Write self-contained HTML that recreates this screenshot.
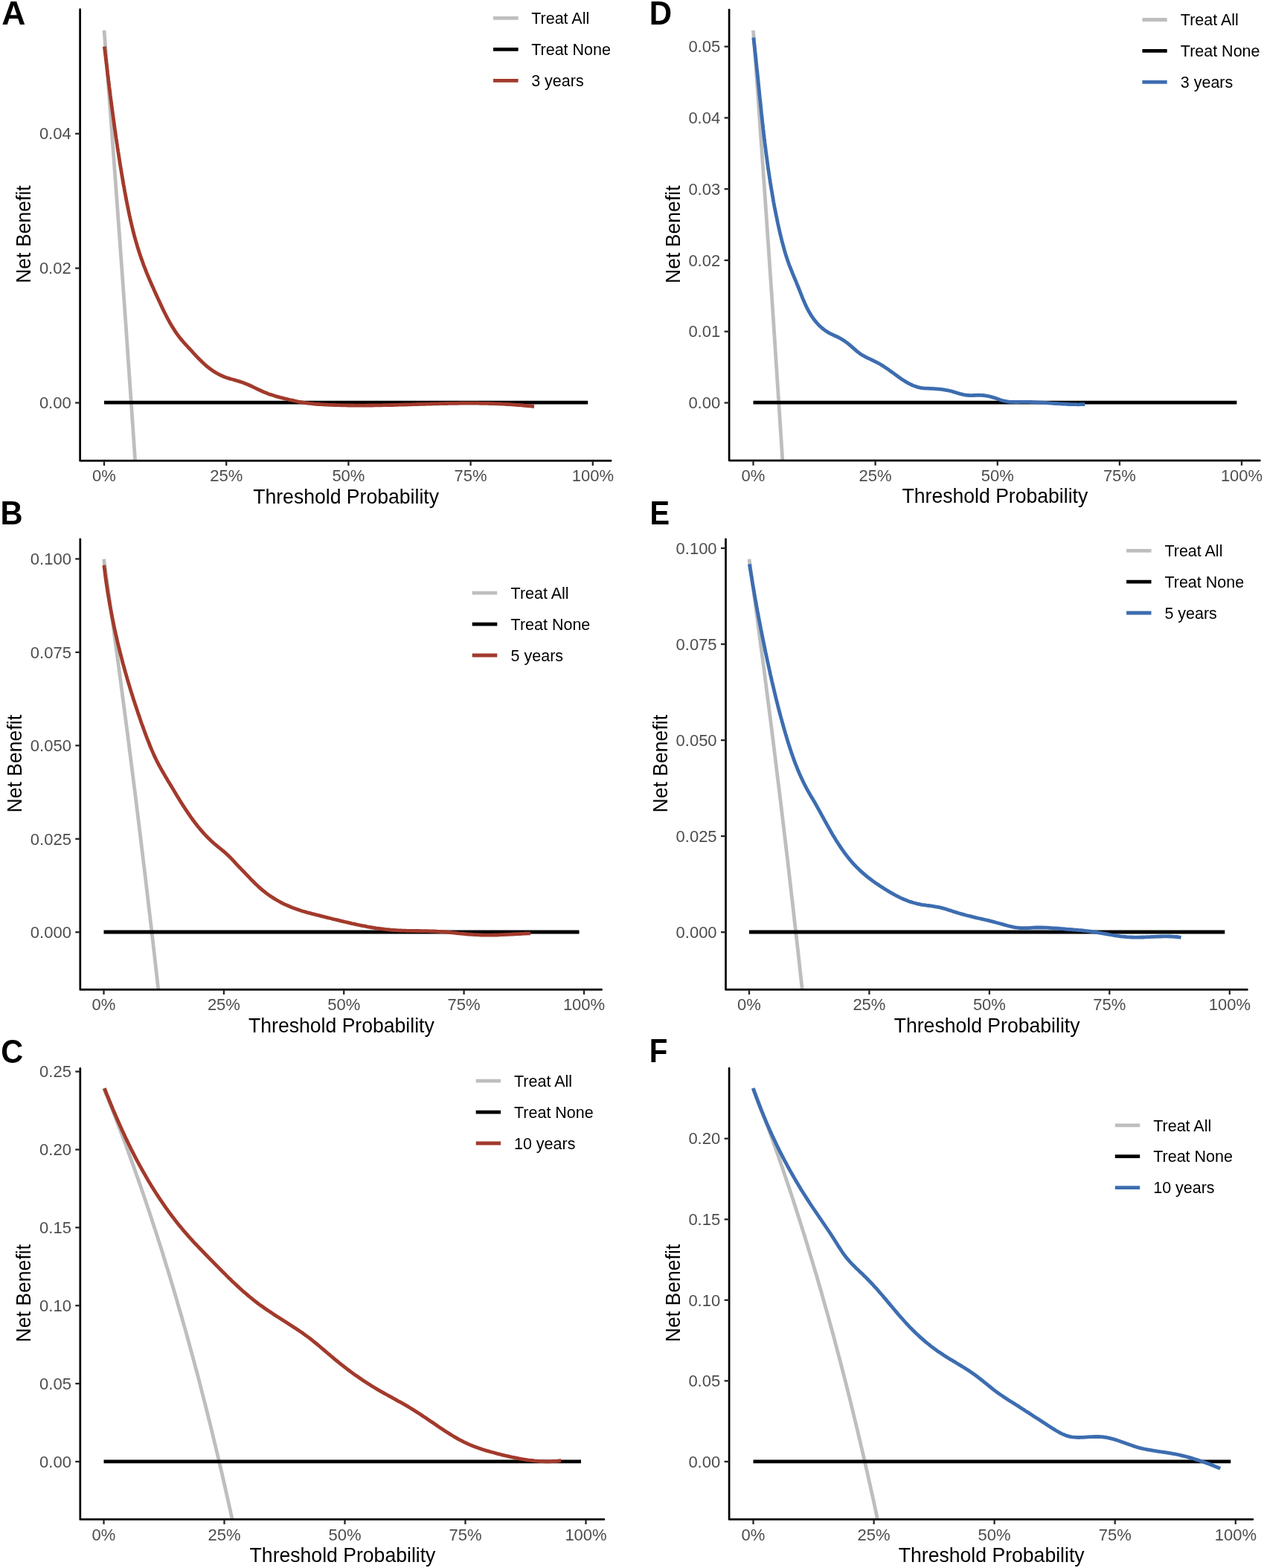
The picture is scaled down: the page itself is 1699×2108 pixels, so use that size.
<!DOCTYPE html>
<html><head><meta charset="utf-8"><title>Decision curve analysis</title>
<style>
html,body{margin:0;padding:0;background:#fff;}
svg{display:block;}
text{font-family:"Liberation Sans",Arial,sans-serif;}
.tk{font-size:22px;fill:#4D4D4D;}
.lg{font-size:21.5px;fill:#000;}
.ti{font-size:26.6px;fill:#000;}
.pl{font-size:42px;font-weight:bold;fill:#000;}
</style></head><body>
<svg xmlns="http://www.w3.org/2000/svg" width="1699" height="2108" viewBox="0 0 1699 2108">
<rect width="1699" height="2108" fill="#fff"/>
<g><clipPath id="clipA"><rect x="107.6" y="11.3" width="714.9" height="607.7"/></clipPath>
<path clip-path="url(#clipA)" d="M140,40.8 L143.3,83.7 L146.6,127.1 L149.9,170.9 L153.1,215.1 L156.4,259.8 L159.7,305 L163,350.6 L166.3,396.7 L169.6,443.3 L172.8,490.4 L176.1,538 L179.4,586.1 L182.7,634.7 L186,683.8" fill="none" stroke="#BEBEBE" stroke-width="4.8"/>
<line x1="140" y1="541.2" x2="790.2" y2="541.2" stroke="#000" stroke-width="4.8"/>
<path d="M140.4,62.6 L140.7,65.6 L141.1,68.6 L141.4,71.6 L141.8,74.6 L142.1,77.6 L142.5,80.6 L142.8,83.6 L143.2,86.6 L143.6,89.6 L143.9,92.6 L144.3,95.6 L144.6,98.6 L145,101.6 L145.4,104.6 L145.7,107.6 L146.1,110.6 L146.5,113.6 L146.8,116.6 L147.2,119.5 L147.6,122.5 L148,125.5 L148.3,128.5 L148.7,131.5 L149.1,134.5 L149.5,137.5 L149.9,140.5 L150.3,143.5 L150.7,146.5 L151.1,149.5 L151.5,152.5 L151.9,155.5 L152.3,158.5 L152.7,161.4 L153.1,164.4 L153.5,167.4 L153.9,170.4 L154.3,173.4 L154.8,176.4 L155.2,179.4 L155.6,182.4 L156,185.4 L156.5,188.3 L156.9,191.3 L157.4,194.3 L157.8,197.3 L158.3,200.3 L158.7,203.3 L159.2,206.2 L159.6,209.2 L160.1,212.2 L160.6,215.2 L161,218.2 L161.5,221.2 L162,224.1 L162.5,227.1 L163,230.1 L163.5,233.1 L164,236.1 L164.5,239 L165,242 L165.5,245 L166,248 L166.6,250.9 L167.1,253.9 L167.6,256.9 L168.2,259.9 L168.7,262.8 L169.3,265.8 L169.8,268.8 L170.4,271.7 L171,274.7 L171.6,277.7 L172.2,280.6 L172.8,283.6 L173.4,286.5 L174,289.5 L174.7,292.4 L175.3,295.4 L176,298.3 L176.7,301.3 L177.4,304.2 L178.1,307.1 L178.8,310.1 L179.6,313 L180.3,315.9 L181.1,318.8 L181.9,321.7 L182.7,324.6 L183.6,327.5 L184.4,330.4 L185.3,333.3 L186.2,336.2 L187.1,339 L188,341.9 L189,344.7 L190,347.6 L191,350.4 L192,353.3 L193,356.1 L194.1,358.9 L195.2,361.7 L196.3,364.6 L197.4,367.4 L198.6,370.2 L199.7,372.9 L200.9,375.7 L202.1,378.5 L203.3,381.3 L204.5,384.1 L205.8,386.8 L207,389.6 L208.2,392.4 L209.5,395.1 L210.8,397.9 L212,400.6 L213.3,403.4 L214.6,406.1 L215.8,408.9 L217.1,411.6 L218.4,414.4 L219.7,417.1 L221,419.8 L222.4,422.5 L223.7,425.2 L225.1,427.9 L226.6,430.5 L228,433.2 L229.5,435.8 L231,438.4 L232.6,440.9 L234.2,443.4 L235.8,445.9 L237.5,448.4 L239.3,450.9 L241.1,453.3 L243,455.6 L244.9,457.9 L246.9,460.2 L248.9,462.5 L251,464.7 L253,467 L255.1,469.2 L257.2,471.4 L259.2,473.7 L261.2,475.9 L263.3,478.1 L265.4,480.3 L267.5,482.5 L269.6,484.6 L271.8,486.7 L274,488.8 L276.2,490.8 L278.6,492.8 L280.9,494.7 L283.3,496.5 L285.8,498.2 L288.3,499.9 L290.9,501.5 L293.5,502.9 L296.2,504.3 L298.9,505.5 L301.7,506.7 L304.5,507.7 L307.4,508.6 L310.3,509.5 L313.2,510.3 L316.1,511.1 L319,512 L321.9,512.9 L324.8,513.8 L327.6,514.8 L330.4,515.9 L333.2,517 L336,518.3 L338.7,519.5 L341.4,520.8 L344.1,522.1 L346.9,523.5 L349.6,524.7 L352.3,526 L355.1,527.2 L357.9,528.3 L360.7,529.4 L363.5,530.4 L366.4,531.3 L369.2,532.2 L372.1,533.1 L375,533.9 L377.9,534.7 L380.9,535.4 L383.8,536.2 L386.8,536.9 L389.7,537.6 L392.6,538.2 L395.6,538.9 L398.6,539.5 L401.5,540.1 L404.5,540.6 L407.5,541.1 L410.5,541.6 L413.5,542 L416.4,542.4 L419.4,542.7 L422.4,543 L425.5,543.3 L428.5,543.5 L431.5,543.7 L434.5,543.9 L437.5,544 L440.5,544.2 L443.5,544.3 L446.5,544.4 L449.5,544.5 L452.6,544.6 L455.6,544.7 L458.6,544.8 L461.6,544.9 L464.6,544.9 L467.6,545 L470.7,545 L473.7,545 L476.7,545.1 L479.7,545.1 L482.7,545.1 L485.7,545.1 L488.8,545.1 L491.8,545.1 L494.8,545 L497.8,545 L500.8,545 L503.8,544.9 L506.9,544.9 L509.9,544.8 L512.9,544.8 L515.9,544.7 L518.9,544.7 L522,544.6 L525,544.5 L528,544.5 L531,544.4 L534,544.3 L537,544.2 L540.1,544.1 L543.1,544 L546.1,544 L549.1,543.9 L552.1,543.8 L555.2,543.7 L558.2,543.6 L561.2,543.5 L564.2,543.4 L567.2,543.3 L570.3,543.3 L573.3,543.2 L576.3,543.1 L579.3,543 L582.3,542.9 L585.3,542.8 L588.4,542.8 L591.4,542.7 L594.4,542.6 L597.4,542.6 L600.4,542.5 L603.5,542.4 L606.5,542.4 L609.5,542.3 L612.5,542.3 L615.5,542.3 L618.5,542.2 L621.6,542.2 L624.6,542.2 L627.6,542.2 L630.6,542.2 L633.6,542.2 L636.6,542.2 L639.7,542.2 L642.7,542.2 L645.7,542.3 L648.7,542.3 L651.7,542.4 L654.7,542.4 L657.8,542.5 L660.8,542.6 L663.8,542.7 L666.8,542.8 L669.8,542.9 L672.8,543 L675.8,543.2 L678.9,543.3 L681.9,543.5 L684.9,543.7 L687.9,543.9 L690.9,544.1 L693.9,544.3 L696.9,544.5 L699.9,544.7 L703,545 L706,545.3 L709,545.6 L712,545.9 L715,546.2 L718,546.5" fill="none" stroke="#A23A2C" stroke-width="4.8" stroke-linejoin="round"/>
<path d="M107.6,12.7 V619.4 H821.1" fill="none" stroke="#000" stroke-width="2.7" stroke-linecap="round" stroke-linejoin="round"/>
<line x1="101.1" y1="541.5" x2="107.6" y2="541.5" stroke="#262626" stroke-width="2.3"/>
<text transform="translate(95.7,549.1) scale(1,1.04)" class="tk" text-anchor="end">0.00</text>
<line x1="101.1" y1="360.6" x2="107.6" y2="360.6" stroke="#262626" stroke-width="2.3"/>
<text transform="translate(95.7,368.3) scale(1,1.04)" class="tk" text-anchor="end">0.02</text>
<line x1="101.1" y1="179.7" x2="107.6" y2="179.7" stroke="#262626" stroke-width="2.3"/>
<text transform="translate(95.7,187.4) scale(1,1.04)" class="tk" text-anchor="end">0.04</text>
<line x1="140" y1="619.4" x2="140" y2="626" stroke="#262626" stroke-width="2.3"/>
<text transform="translate(140,647.3) scale(1,1.04)" class="tk" text-anchor="middle">0%</text>
<line x1="304.2" y1="619.4" x2="304.2" y2="626" stroke="#262626" stroke-width="2.3"/>
<text transform="translate(304.2,647.3) scale(1,1.04)" class="tk" text-anchor="middle">25%</text>
<line x1="468.4" y1="619.4" x2="468.4" y2="626" stroke="#262626" stroke-width="2.3"/>
<text transform="translate(468.4,647.3) scale(1,1.04)" class="tk" text-anchor="middle">50%</text>
<line x1="632.6" y1="619.4" x2="632.6" y2="626" stroke="#262626" stroke-width="2.3"/>
<text transform="translate(632.6,647.3) scale(1,1.04)" class="tk" text-anchor="middle">75%</text>
<line x1="796.8" y1="619.4" x2="796.8" y2="626" stroke="#262626" stroke-width="2.3"/>
<text transform="translate(796.8,647.3) scale(1,1.04)" class="tk" text-anchor="middle">100%</text>
<text transform="translate(465.1,676.6) scale(1,1.04)" class="ti" text-anchor="middle">Threshold Probability</text>
<text transform="translate(41.3,315.1) rotate(-90) scale(1,1.04)" class="ti" text-anchor="middle">Net Benefit</text>
<line x1="663" y1="24.4" x2="696.6" y2="24.4" stroke="#BEBEBE" stroke-width="4.8"/>
<text transform="translate(714.2,32.1) scale(1,1.04)" class="lg">Treat All</text>
<line x1="663" y1="66.4" x2="696.6" y2="66.4" stroke="#000" stroke-width="4.8"/>
<text transform="translate(714.2,74.1) scale(1,1.04)" class="lg">Treat None</text>
<line x1="663" y1="108.3" x2="696.6" y2="108.3" stroke="#A23A2C" stroke-width="4.8"/>
<text transform="translate(714.2,116) scale(1,1.04)" class="lg">3 years</text>
<text transform="translate(2.3,33) scale(1.06,1.04)" class="pl">A</text></g>
<g><clipPath id="clipB"><rect x="107.8" y="723.4" width="702.2" height="606.6"/></clipPath>
<path clip-path="url(#clipB)" d="M139.5,751.7 L142.7,774.4 L146,797.3 L149.2,820.5 L152.4,843.9 L155.6,867.5 L158.9,891.4 L162.1,915.5 L165.3,939.9 L168.5,964.5 L171.8,989.4 L175,1014.6 L178.2,1040 L181.5,1065.7 L184.7,1091.7 L187.9,1117.9 L191.1,1144.5 L194.4,1171.3 L197.6,1198.4 L200.8,1225.8 L204.1,1253.6 L207.3,1281.6 L210.5,1309.9 L213.7,1338.6 L217,1367.6" fill="none" stroke="#BEBEBE" stroke-width="4.8"/>
<line x1="139.5" y1="1253" x2="778.5" y2="1253" stroke="#000" stroke-width="4.8"/>
<path d="M139.9,759.8 L140.2,762.8 L140.6,765.8 L141,768.8 L141.3,771.8 L141.7,774.8 L142.1,777.8 L142.5,780.7 L142.9,783.7 L143.4,786.7 L143.8,789.7 L144.3,792.7 L144.7,795.7 L145.2,798.6 L145.7,801.6 L146.2,804.6 L146.7,807.5 L147.2,810.5 L147.7,813.5 L148.3,816.4 L148.8,819.4 L149.4,822.4 L149.9,825.3 L150.5,828.3 L151.1,831.2 L151.7,834.2 L152.3,837.1 L152.9,840.1 L153.5,843 L154.1,846 L154.8,848.9 L155.4,851.8 L156.1,854.8 L156.8,857.7 L157.4,860.6 L158.1,863.6 L158.8,866.5 L159.5,869.4 L160.3,872.4 L161,875.3 L161.7,878.2 L162.5,881.1 L163.2,884 L164,886.9 L164.7,889.9 L165.5,892.8 L166.3,895.7 L167.1,898.6 L167.9,901.5 L168.7,904.4 L169.6,907.3 L170.4,910.2 L171.2,913.1 L172.1,916 L172.9,918.8 L173.8,921.7 L174.7,924.6 L175.5,927.5 L176.4,930.4 L177.3,933.3 L178.2,936.1 L179.1,939 L180,941.9 L181,944.7 L181.9,947.6 L182.9,950.5 L183.8,953.3 L184.8,956.2 L185.7,959.1 L186.7,961.9 L187.7,964.8 L188.7,967.6 L189.6,970.5 L190.6,973.3 L191.7,976.1 L192.7,979 L193.7,981.8 L194.7,984.7 L195.8,987.5 L196.8,990.3 L197.9,993.1 L199,995.9 L200.1,998.7 L201.2,1001.5 L202.3,1004.3 L203.5,1007.1 L204.7,1009.9 L205.9,1012.6 L207.1,1015.4 L208.4,1018.1 L209.7,1020.8 L211,1023.5 L212.4,1026.1 L213.8,1028.8 L215.2,1031.4 L216.7,1034.1 L218.2,1036.7 L219.7,1039.3 L221.2,1041.9 L222.7,1044.5 L224.3,1047.1 L225.8,1049.7 L227.4,1052.3 L228.9,1054.9 L230.5,1057.4 L232,1060 L233.6,1062.6 L235.2,1065.2 L236.7,1067.8 L238.3,1070.4 L239.9,1072.9 L241.4,1075.5 L243,1078.1 L244.6,1080.6 L246.2,1083.2 L247.9,1085.7 L249.5,1088.2 L251.2,1090.7 L252.9,1093.2 L254.6,1095.7 L256.3,1098.2 L258.1,1100.6 L259.8,1103 L261.6,1105.4 L263.5,1107.8 L265.3,1110.2 L267.2,1112.5 L269.2,1114.9 L271.1,1117.1 L273.1,1119.4 L275.1,1121.6 L277.2,1123.8 L279.3,1126 L281.4,1128.1 L283.6,1130.2 L285.8,1132.2 L288.1,1134.2 L290.4,1136.2 L292.7,1138.1 L295,1140 L297.4,1141.9 L299.7,1143.8 L302,1145.7 L304.2,1147.7 L306.4,1149.8 L308.6,1151.9 L310.7,1154 L312.7,1156.2 L314.8,1158.4 L316.8,1160.6 L318.9,1162.8 L320.9,1165 L323,1167.2 L325.1,1169.4 L327.2,1171.5 L329.3,1173.7 L331.4,1175.9 L333.5,1178 L335.5,1180.2 L337.6,1182.4 L339.8,1184.5 L341.9,1186.7 L344,1188.8 L346.2,1190.8 L348.4,1192.9 L350.7,1194.9 L353,1196.8 L355.3,1198.7 L357.7,1200.6 L360.1,1202.4 L362.5,1204.1 L365,1205.8 L367.6,1207.4 L370.1,1209 L372.7,1210.5 L375.4,1212 L378,1213.4 L380.7,1214.8 L383.4,1216.1 L386.2,1217.3 L389,1218.5 L391.8,1219.7 L394.6,1220.8 L397.4,1221.8 L400.2,1222.8 L403.1,1223.8 L405.9,1224.7 L408.8,1225.5 L411.7,1226.4 L414.6,1227.2 L417.5,1227.9 L420.4,1228.7 L423.3,1229.4 L426.2,1230.2 L429.2,1230.9 L432.1,1231.6 L435,1232.3 L437.9,1233.1 L440.9,1233.8 L443.8,1234.5 L446.7,1235.3 L449.6,1236 L452.6,1236.7 L455.5,1237.4 L458.4,1238.1 L461.4,1238.8 L464.3,1239.5 L467.2,1240.2 L470.2,1240.9 L473.1,1241.6 L476.1,1242.2 L479,1242.9 L481.9,1243.5 L484.9,1244.1 L487.9,1244.7 L490.8,1245.2 L493.8,1245.8 L496.7,1246.3 L499.7,1246.8 L502.7,1247.3 L505.6,1247.8 L508.6,1248.2 L511.6,1248.6 L514.6,1249 L517.5,1249.4 L520.5,1249.7 L523.5,1250 L526.5,1250.3 L529.5,1250.5 L532.5,1250.7 L535.5,1250.9 L538.5,1251 L541.5,1251.1 L544.5,1251.2 L547.6,1251.3 L550.6,1251.4 L553.6,1251.4 L556.6,1251.4 L559.6,1251.5 L562.6,1251.5 L565.7,1251.6 L568.7,1251.6 L571.7,1251.6 L574.7,1251.7 L577.7,1251.8 L580.8,1251.9 L583.8,1252 L586.8,1252.1 L589.8,1252.3 L592.8,1252.5 L595.8,1252.7 L598.8,1252.9 L601.8,1253.2 L604.8,1253.5 L607.8,1253.8 L610.8,1254.1 L613.8,1254.5 L616.8,1254.8 L619.7,1255.1 L622.7,1255.4 L625.7,1255.7 L628.7,1256 L631.7,1256.2 L634.7,1256.4 L637.7,1256.6 L640.8,1256.7 L643.8,1256.9 L646.8,1257 L649.8,1257.1 L652.8,1257.1 L655.8,1257.1 L658.8,1257.1 L661.8,1257.1 L664.9,1257 L667.9,1257 L670.9,1256.8 L673.9,1256.7 L676.9,1256.6 L679.9,1256.4 L682.9,1256.3 L685.9,1256.1 L688.9,1256 L691.9,1255.8 L694.9,1255.6 L698,1255.5 L701,1255.3 L704,1255.2 L707,1255 L710,1254.9 L713,1254.8" fill="none" stroke="#A23A2C" stroke-width="4.8" stroke-linejoin="round"/>
<path d="M107.8,724.8 V1330.4 H808.6" fill="none" stroke="#000" stroke-width="2.7" stroke-linecap="round" stroke-linejoin="round"/>
<line x1="101.3" y1="1253.2" x2="107.8" y2="1253.2" stroke="#262626" stroke-width="2.3"/>
<text transform="translate(95.9,1260.9) scale(1,1.04)" class="tk" text-anchor="end">0.000</text>
<line x1="101.3" y1="1127.8" x2="107.8" y2="1127.8" stroke="#262626" stroke-width="2.3"/>
<text transform="translate(95.9,1135.5) scale(1,1.04)" class="tk" text-anchor="end">0.025</text>
<line x1="101.3" y1="1002.3" x2="107.8" y2="1002.3" stroke="#262626" stroke-width="2.3"/>
<text transform="translate(95.9,1010) scale(1,1.04)" class="tk" text-anchor="end">0.050</text>
<line x1="101.3" y1="876.9" x2="107.8" y2="876.9" stroke="#262626" stroke-width="2.3"/>
<text transform="translate(95.9,884.6) scale(1,1.04)" class="tk" text-anchor="end">0.075</text>
<line x1="101.3" y1="751.4" x2="107.8" y2="751.4" stroke="#262626" stroke-width="2.3"/>
<text transform="translate(95.9,759.1) scale(1,1.04)" class="tk" text-anchor="end">0.100</text>
<line x1="139.5" y1="1330.4" x2="139.5" y2="1337" stroke="#262626" stroke-width="2.3"/>
<text transform="translate(139.5,1358.3) scale(1,1.04)" class="tk" text-anchor="middle">0%</text>
<line x1="300.9" y1="1330.4" x2="300.9" y2="1337" stroke="#262626" stroke-width="2.3"/>
<text transform="translate(300.9,1358.3) scale(1,1.04)" class="tk" text-anchor="middle">25%</text>
<line x1="462.2" y1="1330.4" x2="462.2" y2="1337" stroke="#262626" stroke-width="2.3"/>
<text transform="translate(462.2,1358.3) scale(1,1.04)" class="tk" text-anchor="middle">50%</text>
<line x1="623.6" y1="1330.4" x2="623.6" y2="1337" stroke="#262626" stroke-width="2.3"/>
<text transform="translate(623.6,1358.3) scale(1,1.04)" class="tk" text-anchor="middle">75%</text>
<line x1="785" y1="1330.4" x2="785" y2="1337" stroke="#262626" stroke-width="2.3"/>
<text transform="translate(785,1358.3) scale(1,1.04)" class="tk" text-anchor="middle">100%</text>
<text transform="translate(458.9,1387.6) scale(1,1.04)" class="ti" text-anchor="middle">Threshold Probability</text>
<text transform="translate(28.8,1026.7) rotate(-90) scale(1,1.04)" class="ti" text-anchor="middle">Net Benefit</text>
<line x1="634.7" y1="797.2" x2="668.3" y2="797.2" stroke="#BEBEBE" stroke-width="4.8"/>
<text transform="translate(686.6,804.9) scale(1,1.04)" class="lg">Treat All</text>
<line x1="634.7" y1="839.2" x2="668.3" y2="839.2" stroke="#000" stroke-width="4.8"/>
<text transform="translate(686.6,846.9) scale(1,1.04)" class="lg">Treat None</text>
<line x1="634.7" y1="881" x2="668.3" y2="881" stroke="#A23A2C" stroke-width="4.8"/>
<text transform="translate(686.6,888.7) scale(1,1.04)" class="lg">5 years</text>
<text transform="translate(0.4,704.9) scale(0.99,1.04)" class="pl">B</text></g>
<g><clipPath id="clipC"><rect x="107.8" y="1435.1" width="705.5" height="607.2"/></clipPath>
<path clip-path="url(#clipC)" d="M139.5,1463.1 L142.7,1471.1 L146,1479.2 L149.2,1487.4 L152.5,1495.6 L155.7,1504 L158.9,1512.4 L162.2,1520.9 L165.4,1529.5 L168.7,1538.2 L171.9,1547 L175.1,1555.9 L178.4,1564.9 L181.6,1574 L184.9,1583.2 L188.1,1592.4 L191.3,1601.8 L194.6,1611.3 L197.8,1620.9 L201.1,1630.6 L204.3,1640.4 L207.5,1650.3 L210.8,1660.3 L214,1670.4 L217.3,1680.6 L220.5,1691 L223.7,1701.5 L227,1712.1 L230.2,1722.8 L233.5,1733.7 L236.7,1744.6 L239.9,1755.8 L243.2,1767 L246.4,1778.4 L249.7,1789.9 L252.9,1801.5 L256.1,1813.3 L259.4,1825.3 L262.6,1837.4 L265.9,1849.6 L269.1,1862 L272.3,1874.5 L275.6,1887.2 L278.8,1900.1 L282.1,1913.1 L285.3,1926.3 L288.5,1939.7 L291.8,1953.2 L295,1967 L298.3,1980.9 L301.5,1995 L304.7,2009.2 L308,2023.7 L311.2,2038.4 L314.5,2053.2 L317.7,2068.3" fill="none" stroke="#BEBEBE" stroke-width="4.8"/>
<line x1="139.5" y1="1964.8" x2="781" y2="1964.8" stroke="#000" stroke-width="4.8"/>
<path d="M140.4,1463.2 L141.5,1466 L142.6,1468.8 L143.7,1471.6 L144.9,1474.4 L146,1477.2 L147.1,1480 L148.3,1482.8 L149.4,1485.5 L150.6,1488.3 L151.7,1491.1 L152.9,1493.9 L154.1,1496.7 L155.3,1499.4 L156.5,1502.2 L157.7,1505 L158.9,1507.7 L160.1,1510.5 L161.3,1513.2 L162.6,1516 L163.8,1518.7 L165.1,1521.5 L166.4,1524.2 L167.6,1526.9 L168.9,1529.7 L170.2,1532.4 L171.5,1535.1 L172.8,1537.8 L174.2,1540.5 L175.5,1543.2 L176.8,1545.9 L178.2,1548.6 L179.6,1551.3 L180.9,1554 L182.3,1556.6 L183.7,1559.3 L185.1,1562 L186.6,1564.6 L188,1567.3 L189.5,1569.9 L190.9,1572.5 L192.4,1575.2 L193.9,1577.8 L195.4,1580.4 L196.9,1583 L198.4,1585.6 L199.9,1588.2 L201.5,1590.8 L203.1,1593.4 L204.6,1595.9 L206.2,1598.5 L207.8,1601 L209.4,1603.6 L211.1,1606.1 L212.7,1608.6 L214.4,1611.1 L216.1,1613.6 L217.8,1616.1 L219.5,1618.6 L221.2,1621.1 L222.9,1623.6 L224.7,1626 L226.4,1628.5 L228.2,1630.9 L230,1633.3 L231.8,1635.7 L233.7,1638.1 L235.5,1640.5 L237.4,1642.9 L239.2,1645.3 L241.1,1647.6 L243.1,1649.9 L245,1652.3 L246.9,1654.6 L248.9,1656.9 L250.9,1659.1 L252.8,1661.4 L254.8,1663.6 L256.9,1665.9 L258.9,1668.1 L260.9,1670.3 L263,1672.5 L265.1,1674.7 L267.1,1676.8 L269.2,1679 L271.3,1681.2 L273.4,1683.3 L275.5,1685.5 L277.6,1687.7 L279.7,1689.8 L281.8,1692 L283.9,1694.1 L286,1696.3 L288.1,1698.4 L290.2,1700.6 L292.4,1702.7 L294.5,1704.9 L296.6,1707 L298.7,1709.2 L300.9,1711.3 L303,1713.4 L305.2,1715.6 L307.3,1717.7 L309.5,1719.8 L311.6,1721.9 L313.8,1724 L316,1726 L318.2,1728.1 L320.4,1730.1 L322.6,1732.2 L324.9,1734.2 L327.1,1736.2 L329.4,1738.2 L331.7,1740.1 L334,1742.1 L336.3,1744 L338.6,1745.9 L341,1747.8 L343.3,1749.6 L345.7,1751.5 L348.1,1753.3 L350.5,1755.1 L353,1756.8 L355.4,1758.5 L357.9,1760.3 L360.4,1762 L362.9,1763.6 L365.4,1765.3 L367.9,1766.9 L370.4,1768.6 L373,1770.2 L375.5,1771.8 L378.1,1773.5 L380.6,1775.1 L383.2,1776.7 L385.7,1778.3 L388.2,1780 L390.8,1781.6 L393.3,1783.2 L395.8,1784.9 L398.4,1786.5 L400.9,1788.2 L403.3,1789.9 L405.8,1791.6 L408.3,1793.3 L410.7,1795.1 L413.2,1796.9 L415.6,1798.7 L418,1800.5 L420.3,1802.4 L422.7,1804.3 L425,1806.2 L427.3,1808.1 L429.6,1810 L431.9,1812 L434.2,1813.9 L436.5,1815.9 L438.8,1817.8 L441.1,1819.8 L443.4,1821.7 L445.7,1823.7 L448,1825.6 L450.3,1827.6 L452.7,1829.5 L455,1831.4 L457.3,1833.3 L459.7,1835.2 L462.1,1837 L464.5,1838.9 L466.8,1840.7 L469.3,1842.5 L471.7,1844.3 L474.1,1846.1 L476.5,1847.9 L479,1849.6 L481.5,1851.3 L484,1853 L486.5,1854.7 L489,1856.4 L491.5,1858.1 L494,1859.7 L496.6,1861.3 L499.1,1862.9 L501.7,1864.5 L504.2,1866 L506.8,1867.6 L509.4,1869.1 L512,1870.6 L514.7,1872.1 L517.3,1873.6 L519.9,1875 L522.5,1876.5 L525.2,1877.9 L527.8,1879.4 L530.5,1880.8 L533.1,1882.3 L535.7,1883.8 L538.4,1885.2 L541,1886.7 L543.6,1888.2 L546.2,1889.7 L548.8,1891.2 L551.4,1892.8 L553.9,1894.4 L556.5,1895.9 L559,1897.6 L561.6,1899.2 L564.1,1900.8 L566.6,1902.5 L569.1,1904.2 L571.6,1905.8 L574.1,1907.5 L576.6,1909.2 L579.1,1910.9 L581.6,1912.6 L584.1,1914.3 L586.6,1916 L589.1,1917.7 L591.6,1919.4 L594.1,1921.1 L596.6,1922.7 L599.2,1924.4 L601.7,1926 L604.3,1927.6 L606.8,1929.2 L609.4,1930.8 L612,1932.3 L614.6,1933.8 L617.2,1935.3 L619.9,1936.7 L622.5,1938.1 L625.2,1939.4 L627.9,1940.7 L630.7,1941.9 L633.4,1943.1 L636.2,1944.2 L639,1945.3 L641.8,1946.3 L644.7,1947.3 L647.5,1948.3 L650.4,1949.2 L653.3,1950.1 L656.2,1950.9 L659.1,1951.7 L662,1952.5 L664.9,1953.3 L667.8,1954.1 L670.8,1954.8 L673.7,1955.6 L676.6,1956.3 L679.6,1957 L682.5,1957.7 L685.5,1958.4 L688.4,1959 L691.4,1959.6 L694.3,1960.2 L697.3,1960.8 L700.2,1961.4 L703.2,1961.9 L706.2,1962.3 L709.1,1962.8 L712.1,1963.2 L715.1,1963.5 L718.1,1963.9 L721.1,1964.1 L724,1964.4 L727,1964.6 L730,1964.7 L733,1964.8 L736,1964.8 L739.1,1964.8 L742.1,1964.7 L745.1,1964.5 L748.1,1964.3 L751.2,1964 L754.2,1963.7" fill="none" stroke="#A23A2C" stroke-width="4.8" stroke-linejoin="round"/>
<path d="M107.8,1436.4 V2042.7 H811.9" fill="none" stroke="#000" stroke-width="2.7" stroke-linecap="round" stroke-linejoin="round"/>
<line x1="101.3" y1="1965" x2="107.8" y2="1965" stroke="#262626" stroke-width="2.3"/>
<text transform="translate(95.9,1972.7) scale(1,1.04)" class="tk" text-anchor="end">0.00</text>
<line x1="101.3" y1="1860.1" x2="107.8" y2="1860.1" stroke="#262626" stroke-width="2.3"/>
<text transform="translate(95.9,1867.8) scale(1,1.04)" class="tk" text-anchor="end">0.05</text>
<line x1="101.3" y1="1755.2" x2="107.8" y2="1755.2" stroke="#262626" stroke-width="2.3"/>
<text transform="translate(95.9,1762.9) scale(1,1.04)" class="tk" text-anchor="end">0.10</text>
<line x1="101.3" y1="1650.3" x2="107.8" y2="1650.3" stroke="#262626" stroke-width="2.3"/>
<text transform="translate(95.9,1658) scale(1,1.04)" class="tk" text-anchor="end">0.15</text>
<line x1="101.3" y1="1545.5" x2="107.8" y2="1545.5" stroke="#262626" stroke-width="2.3"/>
<text transform="translate(95.9,1553.2) scale(1,1.04)" class="tk" text-anchor="end">0.20</text>
<line x1="101.3" y1="1440.6" x2="107.8" y2="1440.6" stroke="#262626" stroke-width="2.3"/>
<text transform="translate(95.9,1448.3) scale(1,1.04)" class="tk" text-anchor="end">0.25</text>
<line x1="139.5" y1="2042.7" x2="139.5" y2="2049.2" stroke="#262626" stroke-width="2.3"/>
<text transform="translate(139.5,2070.6) scale(1,1.04)" class="tk" text-anchor="middle">0%</text>
<line x1="301.5" y1="2042.7" x2="301.5" y2="2049.2" stroke="#262626" stroke-width="2.3"/>
<text transform="translate(301.5,2070.6) scale(1,1.04)" class="tk" text-anchor="middle">25%</text>
<line x1="463.5" y1="2042.7" x2="463.5" y2="2049.2" stroke="#262626" stroke-width="2.3"/>
<text transform="translate(463.5,2070.6) scale(1,1.04)" class="tk" text-anchor="middle">50%</text>
<line x1="625.5" y1="2042.7" x2="625.5" y2="2049.2" stroke="#262626" stroke-width="2.3"/>
<text transform="translate(625.5,2070.6) scale(1,1.04)" class="tk" text-anchor="middle">75%</text>
<line x1="787.5" y1="2042.7" x2="787.5" y2="2049.2" stroke="#262626" stroke-width="2.3"/>
<text transform="translate(787.5,2070.6) scale(1,1.04)" class="tk" text-anchor="middle">100%</text>
<text transform="translate(460.5,2099.8) scale(1,1.04)" class="ti" text-anchor="middle">Threshold Probability</text>
<text transform="translate(41.4,1738.7) rotate(-90) scale(1,1.04)" class="ti" text-anchor="middle">Net Benefit</text>
<line x1="639.7" y1="1453.2" x2="673" y2="1453.2" stroke="#BEBEBE" stroke-width="4.8"/>
<text transform="translate(691,1460.9) scale(1,1.04)" class="lg">Treat All</text>
<line x1="639.7" y1="1495.2" x2="673" y2="1495.2" stroke="#000" stroke-width="4.8"/>
<text transform="translate(691,1502.9) scale(1,1.04)" class="lg">Treat None</text>
<line x1="639.7" y1="1537" x2="673" y2="1537" stroke="#A23A2C" stroke-width="4.8"/>
<text transform="translate(691,1544.7) scale(1,1.04)" class="lg">10 years</text>
<text transform="translate(1.3,1429.3) scale(0.985,1.04)" class="pl">C</text></g>
<g><clipPath id="clipD"><rect x="980.1" y="11.7" width="714.6" height="607"/></clipPath>
<path clip-path="url(#clipD)" d="M1012.5,40.8 L1015.8,86.4 L1019.1,132.4 L1022.3,179 L1025.6,226 L1028.9,273.5 L1032.2,321.5 L1035.5,370 L1038.8,418.9 L1042,468.4 L1045.3,518.5 L1048.6,569 L1051.9,620.1 L1055.2,671.7" fill="none" stroke="#BEBEBE" stroke-width="4.8"/>
<line x1="1012.5" y1="541.2" x2="1662.4" y2="541.2" stroke="#000" stroke-width="4.8"/>
<path d="M1012.8,50.4 L1013.1,53.4 L1013.5,56.4 L1013.8,59.4 L1014.2,62.4 L1014.5,65.4 L1014.8,68.4 L1015.1,71.4 L1015.5,74.3 L1015.8,77.3 L1016.1,80.3 L1016.4,83.3 L1016.7,86.3 L1017,89.3 L1017.3,92.3 L1017.7,95.3 L1018,98.3 L1018.3,101.3 L1018.6,104.3 L1018.9,107.3 L1019.2,110.3 L1019.5,113.3 L1019.8,116.3 L1020.1,119.3 L1020.4,122.3 L1020.7,125.3 L1021,128.3 L1021.3,131.3 L1021.7,134.3 L1022,137.3 L1022.3,140.3 L1022.6,143.3 L1022.9,146.3 L1023.2,149.3 L1023.5,152.3 L1023.9,155.3 L1024.2,158.3 L1024.5,161.3 L1024.8,164.3 L1025.2,167.3 L1025.5,170.2 L1025.8,173.2 L1026.2,176.2 L1026.5,179.2 L1026.9,182.2 L1027.2,185.2 L1027.6,188.2 L1027.9,191.2 L1028.3,194.2 L1028.7,197.2 L1029.1,200.2 L1029.4,203.1 L1029.8,206.1 L1030.2,209.1 L1030.6,212.1 L1031,215.1 L1031.4,218.1 L1031.8,221.1 L1032.2,224 L1032.6,227 L1033.1,230 L1033.5,233 L1034,236 L1034.4,238.9 L1034.9,241.9 L1035.3,244.9 L1035.8,247.9 L1036.3,250.8 L1036.8,253.8 L1037.3,256.8 L1037.8,259.7 L1038.3,262.7 L1038.8,265.7 L1039.3,268.6 L1039.8,271.6 L1040.4,274.6 L1040.9,277.5 L1041.5,280.5 L1042.1,283.5 L1042.7,286.4 L1043.2,289.4 L1043.9,292.3 L1044.5,295.3 L1045.1,298.2 L1045.7,301.2 L1046.4,304.1 L1047,307.1 L1047.7,310 L1048.4,313 L1049,315.9 L1049.8,318.8 L1050.5,321.8 L1051.2,324.7 L1052,327.6 L1052.8,330.5 L1053.6,333.4 L1054.4,336.3 L1055.2,339.2 L1056.1,342.1 L1057,344.9 L1057.9,347.8 L1058.9,350.6 L1059.9,353.5 L1060.9,356.3 L1062,359.1 L1063.1,361.9 L1064.2,364.7 L1065.3,367.5 L1066.5,370.2 L1067.6,373 L1068.8,375.8 L1070,378.6 L1071.1,381.3 L1072.2,384.1 L1073.4,387 L1074.5,389.8 L1075.6,392.6 L1076.7,395.4 L1077.8,398.2 L1078.9,401.1 L1080.1,403.8 L1081.3,406.6 L1082.5,409.4 L1083.8,412.1 L1085.2,414.8 L1086.5,417.4 L1088,420.1 L1089.5,422.6 L1091.1,425.2 L1092.8,427.6 L1094.6,430.1 L1096.5,432.4 L1098.5,434.7 L1100.5,436.9 L1102.7,439 L1104.9,441 L1107.3,442.9 L1109.7,444.7 L1112.2,446.3 L1114.8,447.9 L1117.5,449.2 L1120.3,450.5 L1123,451.7 L1125.8,453 L1128.5,454.4 L1131.1,455.8 L1133.6,457.4 L1136.1,459.1 L1138.5,460.9 L1140.8,462.7 L1143.1,464.6 L1145.4,466.6 L1147.7,468.6 L1150,470.6 L1152.3,472.6 L1154.6,474.4 L1157.1,476.2 L1159.6,477.7 L1162.2,479.2 L1164.9,480.6 L1167.6,481.9 L1170.3,483.2 L1173.1,484.5 L1175.8,485.8 L1178.5,487.1 L1181.1,488.5 L1183.7,490 L1186.3,491.6 L1188.8,493.2 L1191.3,494.9 L1193.8,496.6 L1196.2,498.4 L1198.7,500.1 L1201.1,501.9 L1203.5,503.7 L1206,505.5 L1208.5,507.3 L1210.9,509 L1213.5,510.7 L1216,512.3 L1218.6,513.9 L1221.2,515.3 L1223.9,516.7 L1226.7,518 L1229.4,519.1 L1232.2,520.1 L1235.1,520.8 L1238,521.5 L1241,521.9 L1244,522.1 L1247,522.2 L1250.1,522.3 L1253.1,522.4 L1256.1,522.6 L1259.1,522.8 L1262.1,523.1 L1265.1,523.4 L1268.1,523.8 L1271,524.3 L1274,524.9 L1276.9,525.5 L1279.8,526.2 L1282.7,527.1 L1285.6,528 L1288.5,528.9 L1291.4,529.7 L1294.3,530.4 L1297.3,531 L1300.2,531.3 L1303.2,531.5 L1306.2,531.6 L1309.2,531.5 L1312.3,531.4 L1315.3,531.2 L1318.3,531.3 L1321.3,531.5 L1324.2,531.8 L1327.2,532.3 L1330.1,533 L1333,533.7 L1335.9,534.6 L1338.7,535.6 L1341.6,536.6 L1344.4,537.6 L1347.3,538.5 L1350.2,539.2 L1353.1,539.7 L1356.1,540.1 L1359,540.3 L1362,540.4 L1365,540.5 L1368,540.5 L1371,540.4 L1374,540.4 L1377.1,540.4 L1380.1,540.4 L1383.1,540.4 L1386.1,540.5 L1389.1,540.6 L1392.1,540.8 L1395.1,540.9 L1398.1,541.1 L1401.1,541.2 L1404.1,541.4 L1407.2,541.6 L1410.2,541.8 L1413.2,542.1 L1416.2,542.3 L1419.2,542.5 L1422.2,542.7 L1425.2,542.9 L1428.2,543 L1431.2,543.2 L1434.2,543.4 L1437.2,543.5 L1440.2,543.6 L1443.2,543.7 L1446.2,543.7 L1449.3,543.8 L1452.3,543.7 L1455.3,543.7 L1458.3,543.6" fill="none" stroke="#3D6DB0" stroke-width="4.8" stroke-linejoin="round"/>
<path d="M980.1,13 V619.1 H1693.4" fill="none" stroke="#000" stroke-width="2.7" stroke-linecap="round" stroke-linejoin="round"/>
<line x1="973.6" y1="541.5" x2="980.1" y2="541.5" stroke="#262626" stroke-width="2.3"/>
<text transform="translate(968.2,549.1) scale(1,1.04)" class="tk" text-anchor="end">0.00</text>
<line x1="973.6" y1="445.7" x2="980.1" y2="445.7" stroke="#262626" stroke-width="2.3"/>
<text transform="translate(968.2,453.4) scale(1,1.04)" class="tk" text-anchor="end">0.01</text>
<line x1="973.6" y1="349.9" x2="980.1" y2="349.9" stroke="#262626" stroke-width="2.3"/>
<text transform="translate(968.2,357.6) scale(1,1.04)" class="tk" text-anchor="end">0.02</text>
<line x1="973.6" y1="254.1" x2="980.1" y2="254.1" stroke="#262626" stroke-width="2.3"/>
<text transform="translate(968.2,261.8) scale(1,1.04)" class="tk" text-anchor="end">0.03</text>
<line x1="973.6" y1="158.4" x2="980.1" y2="158.4" stroke="#262626" stroke-width="2.3"/>
<text transform="translate(968.2,166.1) scale(1,1.04)" class="tk" text-anchor="end">0.04</text>
<line x1="973.6" y1="62.6" x2="980.1" y2="62.6" stroke="#262626" stroke-width="2.3"/>
<text transform="translate(968.2,70.3) scale(1,1.04)" class="tk" text-anchor="end">0.05</text>
<line x1="1012.5" y1="619.1" x2="1012.5" y2="625.8" stroke="#262626" stroke-width="2.3"/>
<text transform="translate(1012.5,647) scale(1,1.04)" class="tk" text-anchor="middle">0%</text>
<line x1="1176.6" y1="619.1" x2="1176.6" y2="625.8" stroke="#262626" stroke-width="2.3"/>
<text transform="translate(1176.6,647) scale(1,1.04)" class="tk" text-anchor="middle">25%</text>
<line x1="1340.8" y1="619.1" x2="1340.8" y2="625.8" stroke="#262626" stroke-width="2.3"/>
<text transform="translate(1340.8,647) scale(1,1.04)" class="tk" text-anchor="middle">50%</text>
<line x1="1504.9" y1="619.1" x2="1504.9" y2="625.8" stroke="#262626" stroke-width="2.3"/>
<text transform="translate(1504.9,647) scale(1,1.04)" class="tk" text-anchor="middle">75%</text>
<line x1="1669" y1="619.1" x2="1669" y2="625.8" stroke="#262626" stroke-width="2.3"/>
<text transform="translate(1669,647) scale(1,1.04)" class="tk" text-anchor="middle">100%</text>
<text transform="translate(1337.4,676.4) scale(1,1.04)" class="ti" text-anchor="middle">Threshold Probability</text>
<text transform="translate(914,315.2) rotate(-90) scale(1,1.04)" class="ti" text-anchor="middle">Net Benefit</text>
<line x1="1535.4" y1="26.5" x2="1568.7" y2="26.5" stroke="#BEBEBE" stroke-width="4.8"/>
<text transform="translate(1586.8,34.2) scale(1,1.04)" class="lg">Treat All</text>
<line x1="1535.4" y1="68.4" x2="1568.7" y2="68.4" stroke="#000" stroke-width="4.8"/>
<text transform="translate(1586.8,76.1) scale(1,1.04)" class="lg">Treat None</text>
<line x1="1535.4" y1="110.3" x2="1568.7" y2="110.3" stroke="#3D6DB0" stroke-width="4.8"/>
<text transform="translate(1586.8,118) scale(1,1.04)" class="lg">3 years</text>
<text transform="translate(872.8,32.8) scale(1,1.04)" class="pl">D</text></g>
<g><clipPath id="clipE"><rect x="975.5" y="723.4" width="702.2" height="606.6"/></clipPath>
<path clip-path="url(#clipE)" d="M1007,751.7 L1010.2,775.1 L1013.5,798.8 L1016.7,822.7 L1019.9,846.8 L1023.1,871.2 L1026.4,895.8 L1029.6,920.7 L1032.8,945.9 L1036.1,971.3 L1039.3,997 L1042.5,1023 L1045.7,1049.2 L1049,1075.7 L1052.2,1102.5 L1055.4,1129.6 L1058.7,1157 L1061.9,1184.7 L1065.1,1212.7 L1068.3,1241 L1071.6,1269.6 L1074.8,1298.5 L1078,1327.8 L1081.3,1357.4" fill="none" stroke="#BEBEBE" stroke-width="4.8"/>
<line x1="1007" y1="1253" x2="1646.3" y2="1253" stroke="#000" stroke-width="4.8"/>
<path d="M1007.4,758.4 L1007.9,761.4 L1008.3,764.4 L1008.8,767.3 L1009.3,770.3 L1009.8,773.3 L1010.3,776.3 L1010.8,779.3 L1011.2,782.2 L1011.7,785.2 L1012.2,788.2 L1012.8,791.2 L1013.3,794.1 L1013.8,797.1 L1014.3,800.1 L1014.8,803.1 L1015.3,806 L1015.9,809 L1016.4,812 L1016.9,815 L1017.5,817.9 L1018,820.9 L1018.6,823.9 L1019.1,826.8 L1019.7,829.8 L1020.2,832.8 L1020.8,835.7 L1021.4,838.7 L1022,841.7 L1022.5,844.6 L1023.1,847.6 L1023.7,850.5 L1024.3,853.5 L1024.9,856.5 L1025.5,859.4 L1026.1,862.4 L1026.7,865.3 L1027.3,868.3 L1027.9,871.3 L1028.5,874.2 L1029.1,877.2 L1029.8,880.1 L1030.4,883.1 L1031,886 L1031.6,889 L1032.3,891.9 L1032.9,894.9 L1033.6,897.8 L1034.2,900.8 L1034.9,903.7 L1035.5,906.7 L1036.2,909.6 L1036.9,912.6 L1037.5,915.5 L1038.2,918.4 L1038.9,921.4 L1039.6,924.3 L1040.3,927.3 L1041,930.2 L1041.7,933.1 L1042.4,936.1 L1043.1,939 L1043.8,941.9 L1044.6,944.9 L1045.3,947.8 L1046,950.7 L1046.8,953.6 L1047.6,956.6 L1048.3,959.5 L1049.1,962.4 L1049.9,965.3 L1050.7,968.2 L1051.5,971.1 L1052.3,974 L1053.1,976.9 L1053.9,979.8 L1054.8,982.7 L1055.6,985.6 L1056.5,988.5 L1057.3,991.4 L1058.2,994.3 L1059.1,997.2 L1060,1000.1 L1060.9,1003 L1061.8,1005.8 L1062.8,1008.7 L1063.7,1011.6 L1064.7,1014.4 L1065.7,1017.3 L1066.7,1020.1 L1067.7,1022.9 L1068.8,1025.8 L1069.9,1028.6 L1071,1031.4 L1072.1,1034.2 L1073.3,1037 L1074.4,1039.7 L1075.7,1042.5 L1076.9,1045.2 L1078.2,1048 L1079.5,1050.7 L1080.8,1053.4 L1082.2,1056.1 L1083.6,1058.8 L1085,1061.5 L1086.5,1064.1 L1088,1066.7 L1089.5,1069.4 L1091.1,1072 L1092.6,1074.6 L1094.2,1077.2 L1095.7,1079.8 L1097.1,1082.4 L1098.6,1085.1 L1100.1,1087.7 L1101.5,1090.3 L1103,1092.9 L1104.4,1095.6 L1105.9,1098.2 L1107.3,1100.8 L1108.7,1103.5 L1110.2,1106.1 L1111.6,1108.7 L1113.1,1111.4 L1114.6,1114 L1116.1,1116.7 L1117.6,1119.3 L1119.1,1121.9 L1120.7,1124.5 L1122.3,1127.1 L1123.8,1129.7 L1125.5,1132.3 L1127.1,1134.8 L1128.8,1137.4 L1130.5,1139.9 L1132.2,1142.4 L1134,1144.9 L1135.7,1147.3 L1137.6,1149.7 L1139.4,1152.1 L1141.3,1154.5 L1143.2,1156.8 L1145.2,1159.1 L1147.2,1161.3 L1149.2,1163.5 L1151.3,1165.7 L1153.5,1167.8 L1155.6,1169.9 L1157.8,1171.9 L1160.1,1173.9 L1162.4,1175.9 L1164.7,1177.8 L1167,1179.7 L1169.4,1181.5 L1171.8,1183.3 L1174.2,1185.1 L1176.7,1186.9 L1179.2,1188.6 L1181.7,1190.3 L1184.2,1191.9 L1186.8,1193.6 L1189.3,1195.2 L1191.9,1196.8 L1194.5,1198.4 L1197.1,1199.9 L1199.8,1201.4 L1202.4,1202.9 L1205.1,1204.3 L1207.8,1205.7 L1210.5,1207.1 L1213.2,1208.3 L1216,1209.5 L1218.8,1210.6 L1221.6,1211.7 L1224.5,1212.6 L1227.4,1213.5 L1230.3,1214.3 L1233.2,1215.1 L1236.1,1215.7 L1239.1,1216.3 L1242.1,1216.7 L1245.1,1217.2 L1248.1,1217.5 L1251.1,1217.9 L1254.1,1218.3 L1257.1,1218.8 L1260,1219.3 L1263,1219.9 L1265.9,1220.6 L1268.8,1221.4 L1271.7,1222.3 L1274.6,1223.2 L1277.5,1224.1 L1280.3,1225.1 L1283.2,1226 L1286.1,1226.9 L1289,1227.8 L1291.9,1228.6 L1294.8,1229.4 L1297.7,1230.2 L1300.6,1231 L1303.6,1231.7 L1306.5,1232.4 L1309.4,1233.1 L1312.3,1233.8 L1315.3,1234.5 L1318.2,1235.1 L1321.2,1235.8 L1324.1,1236.5 L1327,1237.2 L1330,1237.9 L1332.9,1238.7 L1335.8,1239.4 L1338.8,1240.2 L1341.7,1241 L1344.6,1241.8 L1347.5,1242.6 L1350.4,1243.4 L1353.3,1244.2 L1356.3,1245 L1359.2,1245.7 L1362.1,1246.3 L1365.1,1246.8 L1368,1247.2 L1371,1247.5 L1374,1247.7 L1377,1247.7 L1380,1247.6 L1383.1,1247.5 L1386.1,1247.3 L1389.1,1247.1 L1392.2,1247 L1395.2,1247 L1398.2,1247 L1401.2,1247 L1404.2,1247.1 L1407.3,1247.2 L1410.3,1247.4 L1413.3,1247.6 L1416.3,1247.8 L1419.3,1248 L1422.3,1248.2 L1425.3,1248.5 L1428.3,1248.7 L1431.3,1249 L1434.3,1249.3 L1437.3,1249.5 L1440.4,1249.7 L1443.4,1250 L1446.4,1250.2 L1449.4,1250.5 L1452.4,1250.7 L1455.4,1251 L1458.4,1251.3 L1461.4,1251.7 L1464.4,1252 L1467.4,1252.4 L1470.3,1252.9 L1473.3,1253.4 L1476.3,1253.9 L1479.3,1254.4 L1482.3,1254.9 L1485.2,1255.4 L1488.2,1255.9 L1491.2,1256.5 L1494.2,1257 L1497.1,1257.5 L1500.1,1257.9 L1503.1,1258.4 L1506.1,1258.8 L1509.1,1259.1 L1512,1259.4 L1515,1259.7 L1518,1259.9 L1521,1260 L1524.1,1260.1 L1527.1,1260.1 L1530.1,1260.1 L1533.1,1260 L1536.1,1260 L1539.2,1259.9 L1542.2,1259.7 L1545.2,1259.6 L1548.3,1259.4 L1551.3,1259.3 L1554.3,1259.2 L1557.4,1259.1 L1560.4,1259 L1563.4,1258.9 L1566.4,1258.9 L1569.5,1258.9 L1572.5,1259 L1575.5,1259.1 L1578.5,1259.3 L1581.5,1259.5 L1584.5,1259.9 L1587.5,1260.3" fill="none" stroke="#3D6DB0" stroke-width="4.8" stroke-linejoin="round"/>
<path d="M975.5,724.8 V1330.4 H1676.4" fill="none" stroke="#000" stroke-width="2.7" stroke-linecap="round" stroke-linejoin="round"/>
<line x1="969" y1="1253.2" x2="975.5" y2="1253.2" stroke="#262626" stroke-width="2.3"/>
<text transform="translate(963.6,1260.9) scale(1,1.04)" class="tk" text-anchor="end">0.000</text>
<line x1="969" y1="1124.1" x2="975.5" y2="1124.1" stroke="#262626" stroke-width="2.3"/>
<text transform="translate(963.6,1131.8) scale(1,1.04)" class="tk" text-anchor="end">0.025</text>
<line x1="969" y1="995.1" x2="975.5" y2="995.1" stroke="#262626" stroke-width="2.3"/>
<text transform="translate(963.6,1002.8) scale(1,1.04)" class="tk" text-anchor="end">0.050</text>
<line x1="969" y1="866" x2="975.5" y2="866" stroke="#262626" stroke-width="2.3"/>
<text transform="translate(963.6,873.7) scale(1,1.04)" class="tk" text-anchor="end">0.075</text>
<line x1="969" y1="737" x2="975.5" y2="737" stroke="#262626" stroke-width="2.3"/>
<text transform="translate(963.6,744.6) scale(1,1.04)" class="tk" text-anchor="end">0.100</text>
<line x1="1007" y1="1330.4" x2="1007" y2="1337" stroke="#262626" stroke-width="2.3"/>
<text transform="translate(1007,1358.3) scale(1,1.04)" class="tk" text-anchor="middle">0%</text>
<line x1="1168.4" y1="1330.4" x2="1168.4" y2="1337" stroke="#262626" stroke-width="2.3"/>
<text transform="translate(1168.4,1358.3) scale(1,1.04)" class="tk" text-anchor="middle">25%</text>
<line x1="1329.9" y1="1330.4" x2="1329.9" y2="1337" stroke="#262626" stroke-width="2.3"/>
<text transform="translate(1329.9,1358.3) scale(1,1.04)" class="tk" text-anchor="middle">50%</text>
<line x1="1491.3" y1="1330.4" x2="1491.3" y2="1337" stroke="#262626" stroke-width="2.3"/>
<text transform="translate(1491.3,1358.3) scale(1,1.04)" class="tk" text-anchor="middle">75%</text>
<line x1="1652.8" y1="1330.4" x2="1652.8" y2="1337" stroke="#262626" stroke-width="2.3"/>
<text transform="translate(1652.8,1358.3) scale(1,1.04)" class="tk" text-anchor="middle">100%</text>
<text transform="translate(1326.6,1387.6) scale(1,1.04)" class="ti" text-anchor="middle">Threshold Probability</text>
<text transform="translate(896.7,1026.7) rotate(-90) scale(1,1.04)" class="ti" text-anchor="middle">Net Benefit</text>
<line x1="1514.1" y1="740.3" x2="1547.5" y2="740.3" stroke="#BEBEBE" stroke-width="4.8"/>
<text transform="translate(1565.4,748) scale(1,1.04)" class="lg">Treat All</text>
<line x1="1514.1" y1="782.1" x2="1547.5" y2="782.1" stroke="#000" stroke-width="4.8"/>
<text transform="translate(1565.4,789.8) scale(1,1.04)" class="lg">Treat None</text>
<line x1="1514.1" y1="824" x2="1547.5" y2="824" stroke="#3D6DB0" stroke-width="4.8"/>
<text transform="translate(1565.4,831.7) scale(1,1.04)" class="lg">5 years</text>
<text transform="translate(873.5,704.9) scale(0.95,1.04)" class="pl">E</text></g>
<g><clipPath id="clipF"><rect x="980.1" y="1434.7" width="705.1" height="607.5"/></clipPath>
<path clip-path="url(#clipF)" d="M1012.5,1463 L1015.7,1471.4 L1019,1479.8 L1022.2,1488.4 L1025.5,1497 L1028.7,1505.8 L1031.9,1514.6 L1035.2,1523.5 L1038.4,1532.5 L1041.7,1541.6 L1044.9,1550.8 L1048.2,1560.1 L1051.4,1569.5 L1054.6,1579 L1057.9,1588.6 L1061.1,1598.3 L1064.4,1608.1 L1067.6,1618.1 L1070.8,1628.1 L1074.1,1638.2 L1077.3,1648.5 L1080.6,1658.8 L1083.8,1669.3 L1087,1679.9 L1090.3,1690.6 L1093.5,1701.5 L1096.8,1712.4 L1100,1723.5 L1103.3,1734.7 L1106.5,1746.1 L1109.7,1757.6 L1113,1769.2 L1116.2,1781 L1119.5,1792.9 L1122.7,1804.9 L1125.9,1817.1 L1129.2,1829.4 L1132.4,1841.9 L1135.7,1854.6 L1138.9,1867.4 L1142.2,1880.3 L1145.4,1893.5 L1148.6,1906.8 L1151.9,1920.2 L1155.1,1933.9 L1158.4,1947.7 L1161.6,1961.6 L1164.8,1975.8 L1168.1,1990.2 L1171.3,2004.7 L1174.6,2019.5 L1177.8,2034.4 L1181,2049.5 L1184.3,2064.9" fill="none" stroke="#BEBEBE" stroke-width="4.8"/>
<line x1="1012.5" y1="1964.8" x2="1654.3" y2="1964.8" stroke="#000" stroke-width="4.8"/>
<path d="M1012.2,1463 L1013.2,1465.8 L1014.2,1468.7 L1015.3,1471.5 L1016.3,1474.4 L1017.4,1477.2 L1018.4,1480 L1019.5,1482.8 L1020.6,1485.7 L1021.7,1488.5 L1022.8,1491.3 L1023.9,1494.1 L1025.1,1496.9 L1026.2,1499.7 L1027.4,1502.5 L1028.6,1505.2 L1029.7,1508 L1030.9,1510.8 L1032.1,1513.6 L1033.4,1516.3 L1034.6,1519.1 L1035.8,1521.9 L1037.1,1524.6 L1038.3,1527.3 L1039.6,1530.1 L1040.9,1532.8 L1042.2,1535.5 L1043.5,1538.3 L1044.8,1541 L1046.2,1543.7 L1047.5,1546.4 L1048.9,1549.1 L1050.3,1551.8 L1051.6,1554.5 L1053,1557.1 L1054.4,1559.8 L1055.8,1562.5 L1057.3,1565.1 L1058.7,1567.8 L1060.2,1570.5 L1061.6,1573.1 L1063.1,1575.7 L1064.6,1578.4 L1066.1,1581 L1067.6,1583.6 L1069.1,1586.2 L1070.6,1588.8 L1072.2,1591.4 L1073.7,1594 L1075.3,1596.6 L1076.8,1599.2 L1078.4,1601.7 L1080,1604.3 L1081.6,1606.8 L1083.3,1609.4 L1084.9,1611.9 L1086.5,1614.4 L1088.2,1617 L1089.8,1619.5 L1091.5,1622 L1093.2,1624.5 L1094.9,1627 L1096.6,1629.5 L1098.3,1632 L1100,1634.5 L1101.7,1637 L1103.4,1639.5 L1105.1,1642 L1106.8,1644.5 L1108.5,1647 L1110.2,1649.5 L1111.9,1652 L1113.6,1654.5 L1115.3,1657 L1116.9,1659.5 L1118.6,1662.1 L1120.2,1664.6 L1121.9,1667.2 L1123.5,1669.7 L1125.1,1672.3 L1126.7,1674.9 L1128.3,1677.4 L1130,1680 L1131.6,1682.5 L1133.3,1685 L1135.1,1687.4 L1136.9,1689.8 L1138.8,1692.1 L1140.8,1694.4 L1142.8,1696.7 L1144.8,1698.9 L1146.9,1701 L1149.1,1703.1 L1151.2,1705.3 L1153.4,1707.3 L1155.6,1709.4 L1157.8,1711.5 L1160,1713.6 L1162.1,1715.7 L1164.3,1717.8 L1166.4,1720 L1168.5,1722.2 L1170.6,1724.3 L1172.7,1726.5 L1174.7,1728.8 L1176.8,1731 L1178.8,1733.2 L1180.8,1735.5 L1182.7,1737.8 L1184.7,1740 L1186.7,1742.3 L1188.6,1744.6 L1190.6,1746.9 L1192.5,1749.2 L1194.5,1751.6 L1196.4,1753.9 L1198.4,1756.2 L1200.3,1758.5 L1202.2,1760.8 L1204.2,1763.1 L1206.1,1765.4 L1208.1,1767.7 L1210.1,1770 L1212.1,1772.3 L1214.1,1774.5 L1216.1,1776.8 L1218.1,1779 L1220.2,1781.2 L1222.2,1783.4 L1224.3,1785.6 L1226.5,1787.7 L1228.6,1789.8 L1230.8,1792 L1233,1794 L1235.2,1796.1 L1237.4,1798.1 L1239.7,1800.1 L1242,1802.1 L1244.3,1804.1 L1246.6,1806 L1249,1807.9 L1251.4,1809.8 L1253.8,1811.6 L1256.2,1813.4 L1258.6,1815.2 L1261.1,1816.9 L1263.6,1818.6 L1266.1,1820.3 L1268.6,1822 L1271.2,1823.6 L1273.7,1825.2 L1276.3,1826.8 L1278.9,1828.3 L1281.5,1829.9 L1284.1,1831.4 L1286.6,1833 L1289.2,1834.6 L1291.8,1836.1 L1294.4,1837.7 L1296.9,1839.3 L1299.5,1841 L1302,1842.6 L1304.5,1844.3 L1307,1846 L1309.5,1847.7 L1311.9,1849.5 L1314.4,1851.3 L1316.7,1853.1 L1319.1,1855 L1321.5,1856.9 L1323.8,1858.8 L1326.2,1860.7 L1328.5,1862.6 L1330.9,1864.5 L1333.2,1866.4 L1335.6,1868.3 L1338,1870.1 L1340.4,1871.9 L1342.9,1873.7 L1345.3,1875.4 L1347.8,1877.1 L1350.3,1878.8 L1352.9,1880.4 L1355.4,1882.1 L1358,1883.7 L1360.5,1885.3 L1363.1,1886.9 L1365.6,1888.5 L1368.2,1890.1 L1370.7,1891.8 L1373.2,1893.4 L1375.8,1895 L1378.3,1896.7 L1380.8,1898.3 L1383.4,1899.9 L1385.9,1901.6 L1388.4,1903.2 L1390.9,1904.9 L1393.5,1906.5 L1396,1908.1 L1398.5,1909.8 L1401.1,1911.4 L1403.6,1913.1 L1406.2,1914.8 L1408.7,1916.4 L1411.3,1918.1 L1413.9,1919.7 L1416.5,1921.4 L1419.1,1923 L1421.7,1924.5 L1424.3,1926 L1427,1927.4 L1429.7,1928.6 L1432.5,1929.7 L1435.3,1930.6 L1438.1,1931.4 L1441,1931.9 L1443.9,1932.2 L1446.9,1932.4 L1449.9,1932.5 L1452.9,1932.4 L1456,1932.3 L1459.1,1932.1 L1462.1,1931.9 L1465.2,1931.7 L1468.2,1931.6 L1471.3,1931.5 L1474.3,1931.4 L1477.3,1931.5 L1480.3,1931.7 L1483.3,1932 L1486.2,1932.4 L1489.1,1932.9 L1492.1,1933.6 L1495,1934.3 L1497.9,1935.1 L1500.7,1936 L1503.6,1937 L1506.5,1938 L1509.3,1939 L1512.2,1940 L1515,1941.1 L1517.9,1942.1 L1520.8,1943.1 L1523.6,1944.1 L1526.5,1945 L1529.4,1945.9 L1532.3,1946.7 L1535.3,1947.4 L1538.2,1948 L1541.2,1948.6 L1544.1,1949.2 L1547.1,1949.7 L1550.1,1950.2 L1553,1950.6 L1556,1951.1 L1559,1951.5 L1562,1952 L1565,1952.4 L1568,1952.8 L1571,1953.3 L1573.9,1953.8 L1576.9,1954.4 L1579.9,1954.9 L1582.8,1955.5 L1585.8,1956.2 L1588.7,1956.9 L1591.7,1957.6 L1594.6,1958.3 L1597.5,1959.1 L1600.4,1959.9 L1603.3,1960.8 L1606.2,1961.7 L1609.1,1962.6 L1612,1963.5 L1614.8,1964.5 L1617.7,1965.5 L1620.6,1966.5 L1623.4,1967.5 L1626.2,1968.6 L1629,1969.7 L1631.8,1970.8 L1634.6,1971.9 L1637.4,1973 L1640.2,1974.2" fill="none" stroke="#3D6DB0" stroke-width="4.8" stroke-linejoin="round"/>
<path d="M980.1,1436 V2042.7 H1683.9" fill="none" stroke="#000" stroke-width="2.7" stroke-linecap="round" stroke-linejoin="round"/>
<line x1="973.6" y1="1965" x2="980.1" y2="1965" stroke="#262626" stroke-width="2.3"/>
<text transform="translate(968.2,1972.7) scale(1,1.04)" class="tk" text-anchor="end">0.00</text>
<line x1="973.6" y1="1856.4" x2="980.1" y2="1856.4" stroke="#262626" stroke-width="2.3"/>
<text transform="translate(968.2,1864.1) scale(1,1.04)" class="tk" text-anchor="end">0.05</text>
<line x1="973.6" y1="1747.8" x2="980.1" y2="1747.8" stroke="#262626" stroke-width="2.3"/>
<text transform="translate(968.2,1755.5) scale(1,1.04)" class="tk" text-anchor="end">0.10</text>
<line x1="973.6" y1="1639.3" x2="980.1" y2="1639.3" stroke="#262626" stroke-width="2.3"/>
<text transform="translate(968.2,1647) scale(1,1.04)" class="tk" text-anchor="end">0.15</text>
<line x1="973.6" y1="1530.7" x2="980.1" y2="1530.7" stroke="#262626" stroke-width="2.3"/>
<text transform="translate(968.2,1538.4) scale(1,1.04)" class="tk" text-anchor="end">0.20</text>
<line x1="1012.5" y1="2042.7" x2="1012.5" y2="2049.2" stroke="#262626" stroke-width="2.3"/>
<text transform="translate(1012.5,2070.6) scale(1,1.04)" class="tk" text-anchor="middle">0%</text>
<line x1="1174.6" y1="2042.7" x2="1174.6" y2="2049.2" stroke="#262626" stroke-width="2.3"/>
<text transform="translate(1174.6,2070.6) scale(1,1.04)" class="tk" text-anchor="middle">25%</text>
<line x1="1336.6" y1="2042.7" x2="1336.6" y2="2049.2" stroke="#262626" stroke-width="2.3"/>
<text transform="translate(1336.6,2070.6) scale(1,1.04)" class="tk" text-anchor="middle">50%</text>
<line x1="1498.7" y1="2042.7" x2="1498.7" y2="2049.2" stroke="#262626" stroke-width="2.3"/>
<text transform="translate(1498.7,2070.6) scale(1,1.04)" class="tk" text-anchor="middle">75%</text>
<line x1="1660.8" y1="2042.7" x2="1660.8" y2="2049.2" stroke="#262626" stroke-width="2.3"/>
<text transform="translate(1660.8,2070.6) scale(1,1.04)" class="tk" text-anchor="middle">100%</text>
<text transform="translate(1332.7,2099.8) scale(1,1.04)" class="ti" text-anchor="middle">Threshold Probability</text>
<text transform="translate(913.7,1738.5) rotate(-90) scale(1,1.04)" class="ti" text-anchor="middle">Net Benefit</text>
<line x1="1498.8" y1="1512.9" x2="1532.2" y2="1512.9" stroke="#BEBEBE" stroke-width="4.8"/>
<text transform="translate(1550.2,1520.6) scale(1,1.04)" class="lg">Treat All</text>
<line x1="1498.8" y1="1554.6" x2="1532.2" y2="1554.6" stroke="#000" stroke-width="4.8"/>
<text transform="translate(1550.2,1562.3) scale(1,1.04)" class="lg">Treat None</text>
<line x1="1498.8" y1="1596.6" x2="1532.2" y2="1596.6" stroke="#3D6DB0" stroke-width="4.8"/>
<text transform="translate(1550.2,1604.3) scale(1,1.04)" class="lg">10 years</text>
<text transform="translate(872.8,1428.3) scale(0.96,1.04)" class="pl">F</text></g>
</svg></body></html>
